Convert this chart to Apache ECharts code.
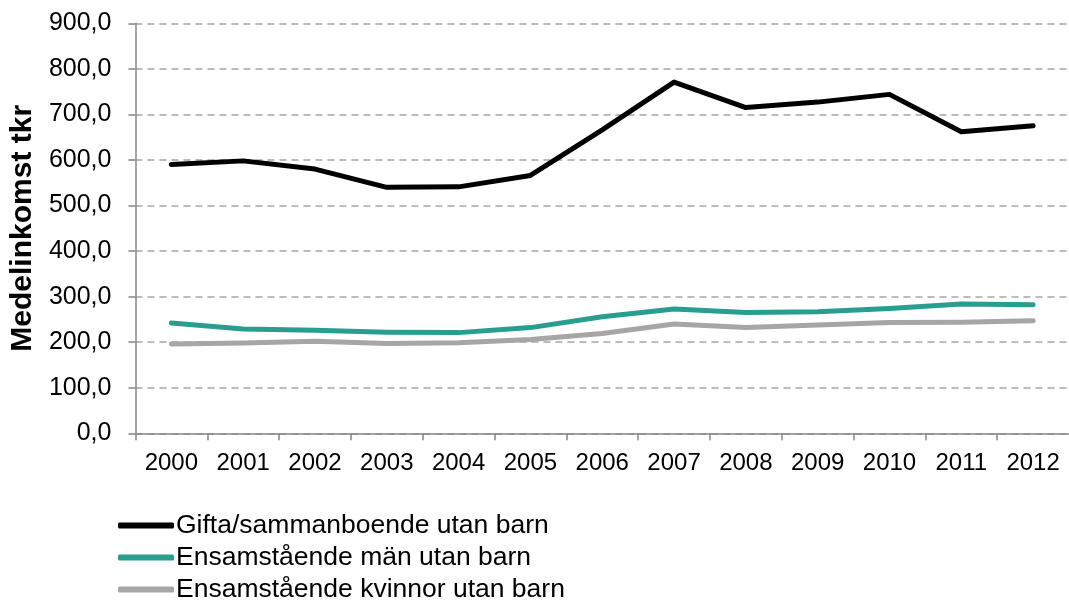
<!DOCTYPE html>
<html><head><meta charset="utf-8">
<script src="https://cdn.jsdelivr.net/npm/echarts@6/dist/echarts.min.js"></script>
<style>html,body{margin:0;padding:0;background:#fff}#c{width:1069px;height:601px}</style>
</head><body><div id="c"></div>
<script>
const years = ['2000','2001','2002','2003','2004','2005','2006','2007','2008','2009','2010','2011','2012'];
const gifta = [590, 598, 580, 540, 541, 566, 666, 771, 715, 727, 744, 662, 675];
const man = [242, 229, 226, 222, 221, 232, 256, 273, 265, 267, 274, 284, 282];
const kvinnor = [196, 198, 202, 197, 199, 206, 219, 240, 232, 238, 243, 244, 247];
const seriesNames = ['Gifta/sammanboende utan barn','Ensamstående män utan barn','Ensamstående kvinnor utan barn'];
const colors = ['#000000','#289e8e','#a6a6a6'];
const font = 'Liberation Sans, Arial, sans-serif';
const chart = echarts.init(document.getElementById('c'));
const mk = (name, data, color) => ({
  name, type:'line', data, symbol:'none', smooth:false,
  lineStyle:{color, width:5, cap:'round', join:'round'}, itemStyle:{color}
});
chart.setOption({
  animation:false,
  grid:{left:134, right:0, top:23.3, bottom:167.7, containLabel:false},
  legend:{
    orient:'vertical', left:118, top:512, height:150, padding:0,
    itemWidth:56, itemHeight:6, itemGap:5, icon:'roundRect',
    textStyle:{fontFamily:font, fontSize:26.5, lineHeight:26, color:'#000', padding:[0,0,0,-3]},
    data:seriesNames
  },
  xAxis:{
    type:'category', data:years, boundaryGap:true,
    axisLine:{lineStyle:{color:'#868686', width:1.5}},
    axisTick:{show:true, length:7, lineStyle:{color:'#868686', width:1.5}},
    axisLabel:{fontFamily:font, fontSize:24, color:'#000', margin:18}
  },
  yAxis:{
    type:'value', min:0, max:900, interval:100,
    name:'Medelinkomst tkr', nameLocation:'middle', nameGap:97, nameRotate:90,
    nameTextStyle:{fontFamily:font, fontSize:30, fontWeight:'bold', color:'#000'},
    axisLine:{show:true, lineStyle:{color:'#868686', width:1.5}},
    axisTick:{show:true, length:7, lineStyle:{color:'#868686', width:1.5}},
    axisLabel:{fontFamily:font, fontSize:25, color:'#000', margin:24,
      formatter:v=>v.toFixed(1).replace('.',',')},
    splitLine:{lineStyle:{color:'#a6a6a6', type:[7,5], width:1.5}}
  },
  series:[mk(seriesNames[0],gifta,colors[0]), mk(seriesNames[1],man,colors[1]), mk(seriesNames[2],kvinnor,colors[2])]
});
</script></body></html>
